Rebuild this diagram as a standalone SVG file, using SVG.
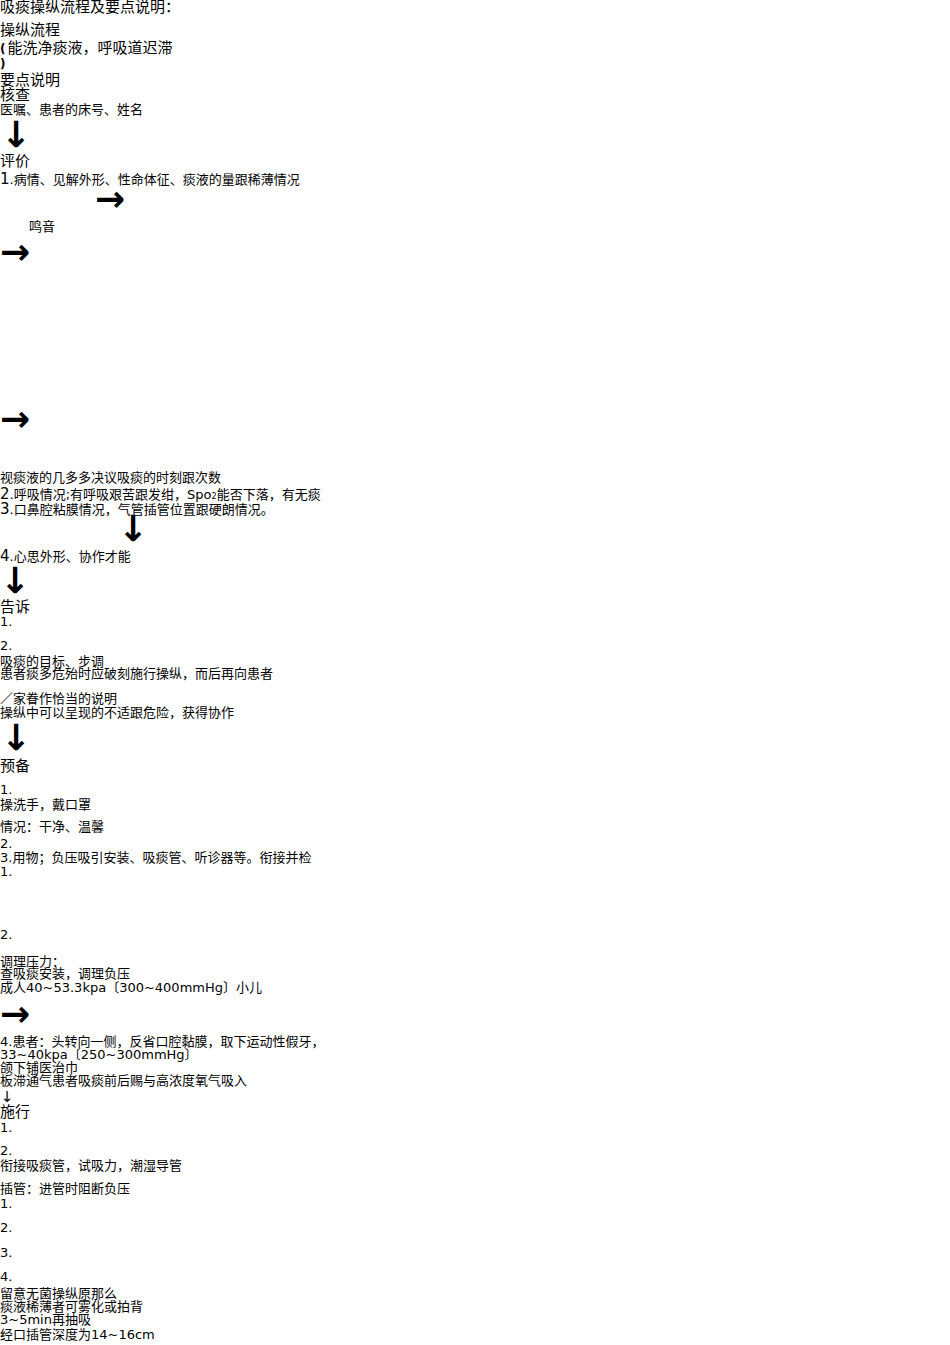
<svg xmlns="http://www.w3.org/2000/svg" width="950" height="1345" viewBox="0 0 950 1345">
<style>
text{font-family:"DejaVu Sans","Noto Sans CJK SC",sans-serif;fill:#000;}
.h{font-size:15px;}
.b{font-size:13px;}
.d{font-size:15px;}
.p{font-weight:bold;font-size:12px;}
.a{font-family:"DejaVu Sans",sans-serif;font-size:36px;font-weight:bold;}
.as{font-family:"DejaVu Sans",sans-serif;font-size:15px;}
</style>
<rect width="950" height="1345" fill="#fff"/>
<g id="title"><text class="h" x="0" y="12">吸痰操纵流程及要点说明：</text></g>
<g id="header">
<text class="h" x="0" y="35">操纵流程</text>
<text class="h" x="0" y="53"><tspan class="p">(</tspan><tspan dx="2">能洗净痰液，呼吸道迟滞</tspan></text>
<text class="p" x="0" y="68">)</text>
<text class="h" x="0" y="85">要点说明</text>
</g>
<g id="check">
<text class="h" x="0" y="100">核查</text>
<text class="b" x="0" y="114">医嘱、患者的床号、姓名</text>
</g>
<g id="evaluate">
<text class="h" x="0" y="166">评价</text>
<text class="b" x="0" y="184"><tspan class="d">1</tspan>.病情、见解外形、性命体征、痰液的量跟稀薄情况</text>
<text class="b" x="29" y="231">鸣音</text>
<text class="b" x="0" y="482">视痰液的几多多决议吸痰的时刻跟次数</text>
<text class="b" x="0" y="499"><tspan class="d">2</tspan>.呼吸情况;有呼吸艰苦跟发绀，Spo<tspan font-size="8">2</tspan>能否下落，有无痰</text>
<text class="b" x="0" y="514"><tspan class="d">3</tspan>.口鼻腔粘膜情况，气管插管位置跟硬朗情况。</text>
<text class="b" x="0" y="561"><tspan class="d">4</tspan>.心思外形、协作才能</text>
</g>
<g id="inform">
<text class="h" x="0" y="612">告诉</text>
<text class="b" x="0" y="626">1.</text>
<text class="b" x="0" y="650">2.</text>
<text class="b" x="0" y="666">吸痰的目标、步调</text>
<text class="b" x="0" y="678">患者痰多危殆时应破刻施行操纵，而后再向患者</text>
<text class="b" x="0" y="703">／家眷作恰当的说明</text>
<text class="b" x="0" y="717">操纵中可以呈现的不适跟危险，获得协作</text>
</g>
<g id="prepare">
<text class="h" x="0" y="771">预备</text>
<text class="b" x="0" y="794">1.</text>
<text class="b" x="0" y="809">操洗手，戴口罩</text>
<text class="b" x="0" y="831">情况：干净、温馨</text>
<text class="b" x="0" y="848">2.</text>
<text class="b" x="0" y="862">3.用物；负压吸引安装、吸痰管、听诊器等。衔接并检</text>
<text class="b" x="0" y="876">1.</text>
<text class="b" x="0" y="939">2.</text>
<text class="b" x="0" y="966">调理压力：</text>
<text class="b" x="0" y="978">查吸痰安装，调理负压</text>
<text class="b" x="0" y="992">成人40~53.3kpa〔300~400mmHg〕小儿</text>
<text class="b" x="0" y="1046">4.患者：头转向一侧，反省口腔黏膜，取下运动性假牙，</text>
<text class="b" x="0" y="1059">33~40kpa〔250~300mmHg〕</text>
<text class="b" x="0" y="1072">颌下铺医治巾</text>
<text class="b" x="0" y="1085">板滞通气患者吸痰前后赐与高浓度氧气吸入</text>
</g>
<g id="execute">
<text class="h" x="0" y="1117">施行</text>
<text class="b" x="0" y="1132">1.</text>
<text class="b" x="0" y="1155">2.</text>
<text class="b" x="0" y="1170">衔接吸痰管，试吸力，潮湿导管</text>
<text class="b" x="0" y="1193">插管：进管时阻断负压</text>
<text class="b" x="0" y="1208">1.</text>
<text class="b" x="0" y="1232">2.</text>
<text class="b" x="0" y="1257">3.</text>
<text class="b" x="0" y="1281">4.</text>
<text class="b" x="0" y="1298">留意无菌操纵原那么</text>
<text class="b" x="0" y="1311">痰液稀薄者可雾化或拍背</text>
<text class="b" x="0" y="1324">3~5min再抽吸</text>
<text class="b" x="0" y="1339">经口插管深度为14~16cm</text>
</g>
<g id="connectors">
<text class="a" x="16" y="147" text-anchor="middle">↓</text>
<text class="a" x="95" y="211">→</text>
<text class="a" x="0" y="264">→</text>
<text class="a" x="0" y="431">→</text>
<text class="a" x="133" y="541" text-anchor="middle">↓</text>
<text class="a" x="15" y="593" text-anchor="middle">↓</text>
<text class="a" x="16" y="750" text-anchor="middle">↓</text>
<text class="a" x="0" y="1026">→</text>
<text class="as" x="7" y="1102" text-anchor="middle">↓</text>
</g>
</svg>
